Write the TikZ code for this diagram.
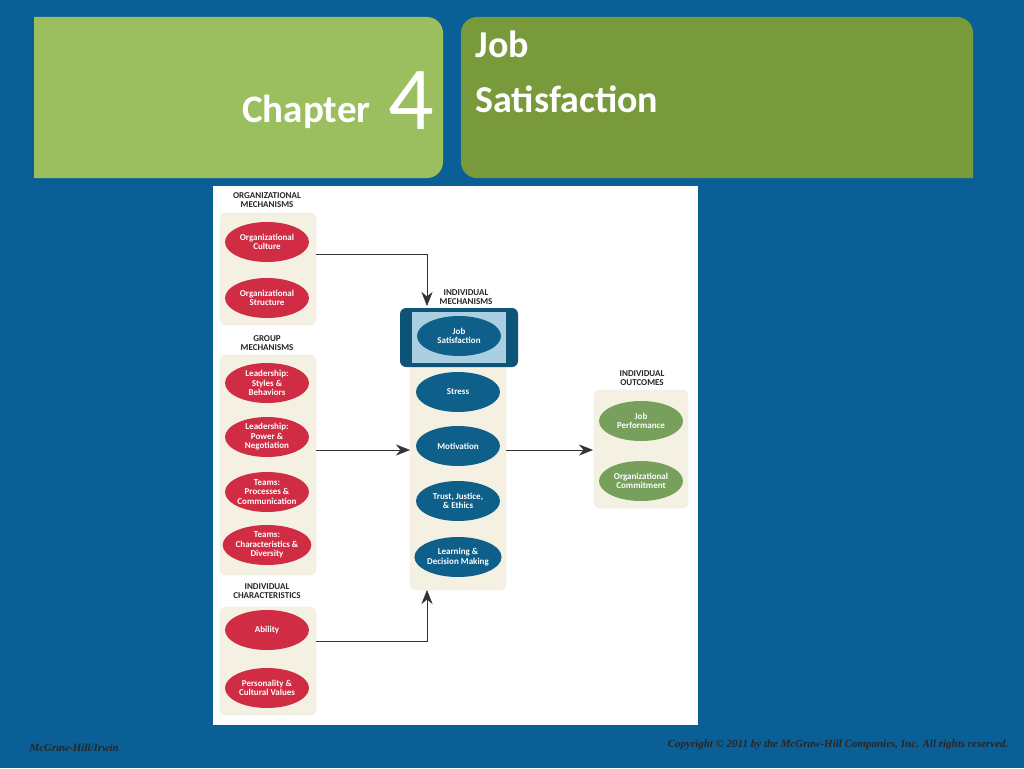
\documentclass[tikz,border=0pt]{standalone}
\usepackage{fontspec}
\setmainfont{Carlito}
\newfontfamily\footfont{Liberation Serif}
\usetikzlibrary{arrows.meta, shapes.geometric}
\definecolor{slideblue}{HTML}{0B5F97}
\definecolor{lightgreen}{HTML}{9BBF5F}
\definecolor{darkgreen}{HTML}{789A3B}
\definecolor{beige}{HTML}{F4F1E2}
\definecolor{redov}{HTML}{D02C44}
\definecolor{blueov}{HTML}{0E5F8A}
\definecolor{greenov}{HTML}{76A05B}
\definecolor{frameblue}{HTML}{0D5478}
\definecolor{paleblue}{HTML}{A9CFE0}
\tikzset{
  redoval/.style={ellipse, fill=redov, minimum width=84pt, minimum height=40pt, inner sep=0pt, text=white, font=\bfseries\fontsize{9}{9.5}\selectfont, align=center},
  blueoval/.style={redoval, fill=blueov},
  greenoval/.style={redoval, fill=greenov},
  panel/.style={fill=beige, rounded corners=6pt, draw=black!8},
  head/.style={font=\bfseries\fontsize{9}{9.5}\selectfont, align=center, text=black!85},
  flow/.style={-{Stealth[length=14pt,width=11pt]}, black!80, thin}
}
\begin{document}
\begin{tikzpicture}[x=1pt, y=-1pt]
\useasboundingbox (0,0) rectangle (1024,768);
\fill[slideblue] (0,0) rectangle (1024,768);

% title bars
\fill[lightgreen] (34,178) -- (34,17) [rounded corners=16pt] -- (443,17) -- (443,178) [sharp corners] -- cycle;
\fill[darkgreen, rounded corners=16pt] (461,17) -- (973,17) [sharp corners] -- (973,178) [rounded corners=16pt] -- (461,178) -- cycle;
\node[anchor=east, text=white, font=\bfseries\fontsize{39}{39}\selectfont] (chap) at (374,112) {Chapter};
\node[text=white, font=\fontsize{90}{90}\selectfont] (num) at (411,101) {4};
\node[anchor=west, text=white, font=\bfseries\fontsize{38}{55}\selectfont, align=left] (title) at (472,72) {Job\\Satisfaction};

% diagram panel
\fill[white] (213,186) rectangle (698,725);

\node[head] (orghead) at (267,200) {ORGANIZATIONAL\\MECHANISMS};
\fill[panel] (220,213) rectangle (316,325);
\node[redoval] (culture) at (267,242) {Organizational\\Culture};
\node[redoval] (structure) at (267,298) {Organizational\\Structure};

\node[head] (grouphead) at (267,343) {GROUP\\MECHANISMS};
\fill[panel] (220,355) rectangle (316,575);
\node[redoval] (styles) at (267,383) {Leadership:\\Styles \&\\Behaviors};
\node[redoval] (power) at (267,437) {Leadership:\\Power \&\\Negotiation};
\node[redoval] (processes) at (267,492) {Teams:\\Processes \&\\Communication};
\node[redoval] (diversity) at (267,545) {Teams:\\Characteristics \&\\Diversity};

\node[head] (charhead) at (267,591) {INDIVIDUAL\\CHARACTERISTICS};
\fill[panel] (220,607) rectangle (316,715);
\node[redoval] (ability) at (267,630) {Ability};
\node[redoval] (personality) at (267,688) {Personality \&\\Cultural Values};

\node[head] (mechhead) at (466,297) {INDIVIDUAL\\MECHANISMS};
\fill[panel] (410,350) rectangle (506,590);
\fill[frameblue, rounded corners=6pt] (400,308) rectangle (518,367);
\fill[paleblue] (412,312) rectangle (506,363);
\node[blueoval] (jobsat) at (459,336) {Job\\Satisfaction};
\node[blueoval] (stress) at (458,392) {Stress};
\node[blueoval] (motivation) at (458,446) {Motivation};
\node[blueoval] (trust) at (458,501) {Trust, Justice,\\\& Ethics};
\node[blueoval] (learning) at (458,557) {Learning \&\\Decision Making};

\node[head] (outhead) at (642,378) {INDIVIDUAL\\OUTCOMES};
\fill[panel] (594,390) rectangle (688,508);
\node[greenoval] (performance) at (641,421) {Job\\Performance};
\node[greenoval] (commitment) at (641,481) {Organizational\\Commitment};

% connectors
\coordinate (orgout) at (316,254);
\coordinate (groupout) at (316,450);
\coordinate (charout) at (316,641);
\coordinate (mechtop) at (427,306);
\coordinate (mechleft) at (410,450);
\coordinate (mechbot) at (427,590);
\coordinate (mechright) at (506,450);
\coordinate (outleft) at (593,450);
\draw[flow] (orgout) -| (mechtop);
\draw[flow] (groupout) -- (mechleft);
\draw[flow] (charout) -| (mechbot);
\draw[flow] (mechright) -- (outleft);

% footer
\node[anchor=west, text=black!85, font=\footfont\bfseries\itshape\fontsize{11}{11}\selectfont] (pub) at (26,748) {McGraw-Hill/Irwin};
\node[anchor=east, text=black!85, font=\footfont\bfseries\itshape\fontsize{11}{11}\selectfont] (copy) at (1012,745) {Copyright \textcopyright{} 2011 by the McGraw-Hill Companies, Inc. All rights reserved.};
\end{tikzpicture}
\end{document}
